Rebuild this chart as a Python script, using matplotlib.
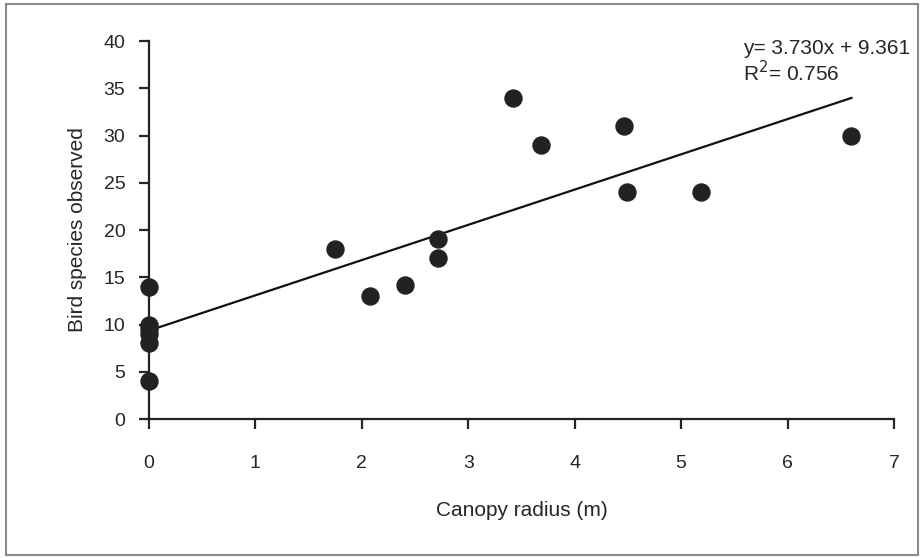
import numpy as np
import matplotlib.pyplot as plt
from matplotlib.patches import Rectangle

plt.rcParams['font.family'] = ['Liberation Sans', 'DejaVu Sans']

# canopy radius (m) and bird species counts
radius = [0, 0, 0, 0, 0, 0, 1.75, 2.08, 2.41, 2.72, 2.72, 3.42, 3.68, 4.46, 4.49, 5.19, 6.6]
species = [14, 10, 9.5, 9, 8, 4, 18, 13, 14.2, 19, 17, 34, 29, 31, 24, 24, 30]

slope = 3.730
intercept = 9.361
r2 = 0.756

x_ticks = [0, 1, 2, 3, 4, 5, 6, 7]
y_ticks = [0, 5, 10, 15, 20, 25, 30, 35, 40]

ink = '#262626'

fig = plt.figure(figsize=(9.23, 5.58), dpi=100)
ax = fig.add_axes([0.1614, 0.249, 0.8072, 0.6775])

ax.scatter(radius, species, s=150, color='#222222', zorder=3, clip_on=False)
xl = np.array([0, max(radius)])
ax.plot(xl, slope * xl + intercept, color='#111111', lw=1.6, zorder=2)

ax.set_xlim(0, 7)
ax.set_ylim(0, 40)
ax.set_xticks(x_ticks)
ax.set_yticks(y_ticks)
for s in ['top', 'right']:
    ax.spines[s].set_visible(False)
for s in ['left', 'bottom']:
    ax.spines[s].set_linewidth(1.6)
    ax.spines[s].set_color('#222222')
ax.tick_params(axis='x', direction='out', length=7, width=1.6, pad=19,
               labelsize=14, colors=ink)
ax.tick_params(axis='y', direction='out', length=7, width=1.6, pad=10,
               labelsize=14, colors=ink)

ax.set_xlabel('Canopy radius (m)', fontsize=15, color=ink, labelpad=21)
ax.set_ylabel('Bird species observed', fontsize=15, color=ink, labelpad=12)

ax.text(5.58, 40.2, f'y= {slope:.3f}x + {intercept:.3f}\nR$^2$= {r2:.3f}',
        fontsize=15, color=ink, va='top', ha='left', linespacing=1.1)

fig.patches.append(Rectangle((6 / 923, 3 / 558), 912 / 923, 551 / 558,
                             transform=fig.transFigure, fill=False,
                             edgecolor='#8a8a8a', lw=1.5))

fig.savefig('out.png', dpi=100)
